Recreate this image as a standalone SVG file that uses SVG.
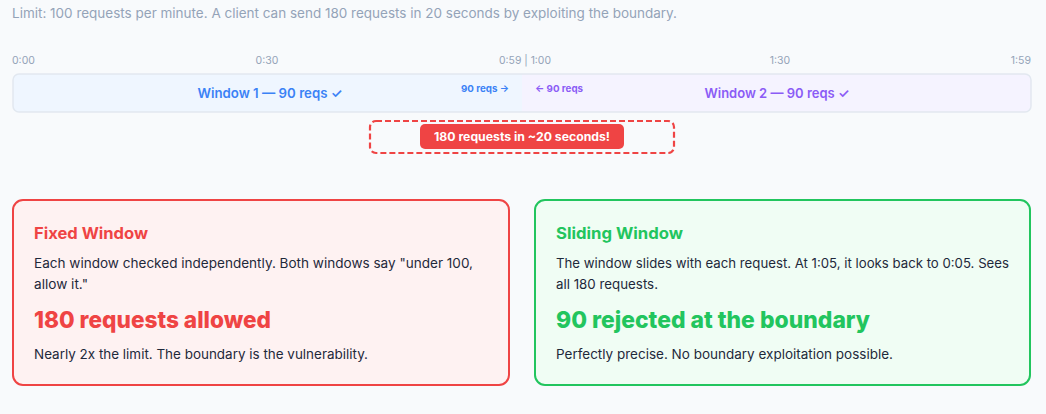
<svg xmlns="http://www.w3.org/2000/svg" width="1046" height="414" viewBox="0 0 1046 414">
<style>
text{font-family:Inter,"Open Sans","Liberation Sans",sans-serif}
.sub{font-size:13px;fill:#94a3b8}
.tick{font-size:10.5px;fill:#94a3b8}
.win{font-size:13.5px;font-weight:600}
.small{font-size:9.5px;font-weight:700}
.ttl{font-size:16px;font-weight:700}
.body{font-size:13px;fill:#1e293b}
.big{font-size:23.5px;font-weight:800}
</style>
<rect width="1046" height="414" fill="#f8fafc"/>
<text class="sub" x="12" y="18" textLength="665" lengthAdjust="spacingAndGlyphs">Limit: 100 requests per minute. A client can send 180 requests in 20 seconds by exploiting the boundary.</text>
<g id="timeline">
<text class="tick" x="12" y="64">0:00</text>
<text class="tick" x="267" y="64" text-anchor="middle">0:30</text>
<text class="tick" x="525" y="64" text-anchor="middle" textLength="52" lengthAdjust="spacingAndGlyphs">0:59 | 1:00</text>
<text class="tick" x="780" y="64" text-anchor="middle">1:30</text>
<text class="tick" x="1031" y="64" text-anchor="end">1:59</text>
</g>
<g id="bar">
<clipPath id="barclip"><rect x="13" y="74" width="1018" height="38" rx="6"/></clipPath>
<g clip-path="url(#barclip)">
<rect x="13" y="74" width="509" height="38" fill="#eff6ff"/>
<rect x="522" y="74" width="509" height="38" fill="#f5f3ff"/>
</g>
<rect x="13" y="74" width="1018" height="38" rx="6" fill="none" stroke="#e2e8f0" stroke-width="1.5"/>
</g>
<g id="window1">
<text class="win" x="270" y="97.5" text-anchor="middle" fill="#3b82f6" textLength="145" lengthAdjust="spacingAndGlyphs">Window 1 — 90 reqs ✓</text>
<text class="small" x="461" y="92" fill="#3b82f6" textLength="48" lengthAdjust="spacingAndGlyphs">90 reqs →</text>
</g>
<g id="window2">
<text class="win" x="777" y="97.5" text-anchor="middle" fill="#8b5cf6" textLength="145" lengthAdjust="spacingAndGlyphs">Window 2 — 90 reqs ✓</text>
<text class="small" x="535" y="92" fill="#8b5cf6" textLength="48" lengthAdjust="spacingAndGlyphs">← 90 reqs</text>
</g>
<g id="burst">
<rect x="370" y="121" width="304" height="32" rx="6" fill="none" stroke="#ef4444" stroke-width="2.2" stroke-dasharray="6,3"/>
<rect x="420" y="124" width="204" height="25" rx="5" fill="#ef4444"/>
<text x="522" y="141" text-anchor="middle" fill="#ffffff" font-size="11.5" font-weight="700" textLength="176" lengthAdjust="spacingAndGlyphs">180 requests in ~20 seconds!</text>
</g>
<g id="fixed">
<rect x="13" y="200" width="496" height="185" rx="10" fill="#fef2f2" stroke="#ef4444" stroke-width="2"/>
<text class="ttl" x="34" y="239" fill="#ef4444" textLength="114" lengthAdjust="spacingAndGlyphs">Fixed Window</text>
<text class="body" x="34" y="268" textLength="439" lengthAdjust="spacingAndGlyphs">Each window checked independently. Both windows say "under 100,</text>
<text class="body" x="34" y="289" textLength="54" lengthAdjust="spacingAndGlyphs">allow it."</text>
<text class="big" x="34" y="328" fill="#ef4444" textLength="237" lengthAdjust="spacingAndGlyphs">180 requests allowed</text>
<text class="body" x="34" y="359" textLength="334" lengthAdjust="spacingAndGlyphs">Nearly 2x the limit. The boundary is the vulnerability.</text>
</g>
<g id="sliding">
<rect x="535" y="200" width="495" height="185" rx="10" fill="#f0fdf4" stroke="#22c55e" stroke-width="2"/>
<text class="ttl" x="556" y="239" fill="#22c55e" textLength="127" lengthAdjust="spacingAndGlyphs">Sliding Window</text>
<text class="body" x="556" y="268" textLength="453" lengthAdjust="spacingAndGlyphs">The window slides with each request. At 1:05, it looks back to 0:05. Sees</text>
<text class="body" x="556" y="289" textLength="102" lengthAdjust="spacingAndGlyphs">all 180 requests.</text>
<text class="big" x="556" y="328" fill="#22c55e" textLength="314" lengthAdjust="spacingAndGlyphs">90 rejected at the boundary</text>
<text class="body" x="556" y="359" textLength="337" lengthAdjust="spacingAndGlyphs">Perfectly precise. No boundary exploitation possible.</text>
</g>
</svg>
